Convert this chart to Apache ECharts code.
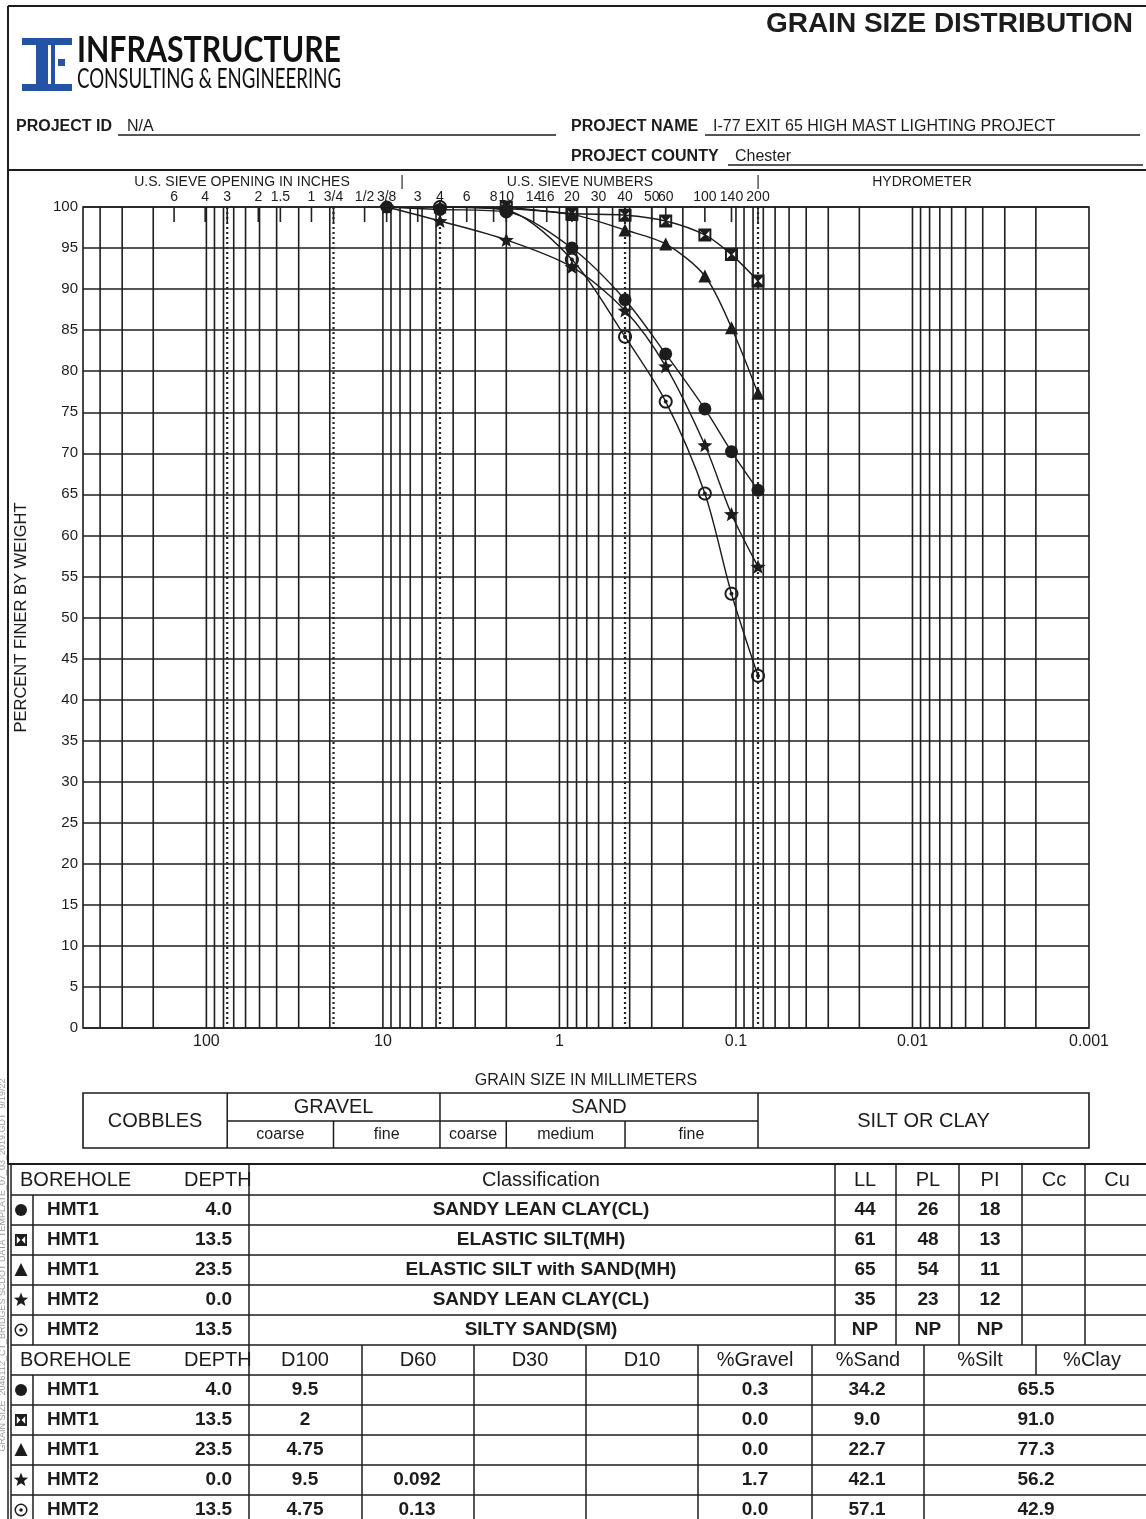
<!DOCTYPE html>
<html>
<head>
<meta charset="utf-8">
<title>Grain Size Distribution</title>
<script src="https://cdn.jsdelivr.net/npm/echarts@6/dist/echarts.min.js"></script>
<style>
html,body{margin:0;padding:0;background:#fff;}
#chart{width:1146px;height:1519px;}
</style>
</head>
<body>
<div id="chart"></div>
<script>
// ---------------- DATA ----------------
const sieveSizesMm = [152.4, 101.6, 76.2, 50.8, 38.1, 25.4, 19.05, 12.7, 9.525, 6.35, 4.75, 3.35, 2.36, 2.0, 1.4, 1.18, 0.85, 0.6, 0.425, 0.3, 0.25, 0.15, 0.106, 0.075];
const sieveLabels  = ['6','4','3','2','1.5','1','3/4','1/2','3/8','3','4','6','8','10','14','16','20','30','40','50','60','100','140','200'];
const boundarySizesMm = [76.2, 19.05, 4.75, 0.425, 0.075];

const xTickValues = [100, 10, 1, 0.1, 0.01, 0.001];
const xTickLabels = ['100', '10', '1', '0.1', '0.01', '0.001'];

const testSizesMm    = [9.5, 4.75, 2.0, 0.85, 0.425, 0.25, 0.15, 0.106, 0.075];
const finerHMT1_4_0  = [100, 99.7, 99.4, 95.0, 88.7, 82.1, 75.4, 70.2, 65.5];
const finerHMT1_13_5 = [null, null, 100, 99.2, 99.0, 98.3, 96.6, 94.2, 91.0];
const finerHMT1_23_5 = [null, 100, 99.8, 99.1, 97.2, 95.5, 91.6, 85.3, 77.3];
const finerHMT2_0_0  = [100, 98.3, 96.0, 92.7, 87.4, 80.6, 71.0, 62.6, 56.2];
const finerHMT2_13_5 = [null, 100, 99.6, 93.6, 84.2, 76.3, 65.1, 52.9, 42.9];

const boreholes       = ['HMT1', 'HMT1', 'HMT1', 'HMT2', 'HMT2'];
const depths          = ['4.0', '13.5', '23.5', '0.0', '13.5'];
const classifications = ['SANDY LEAN CLAY(CL)', 'ELASTIC SILT(MH)', 'ELASTIC SILT with SAND(MH)', 'SANDY LEAN CLAY(CL)', 'SILTY SAND(SM)'];
const liquidLimit     = ['44', '61', '65', '35', 'NP'];
const plasticLimit    = ['26', '48', '54', '23', 'NP'];
const plasticityIdx   = ['18', '13', '11', '12', 'NP'];
const d100            = ['9.5', '2', '4.75', '9.5', '4.75'];
const d60             = ['', '', '', '0.092', '0.13'];
const d30             = ['', '', '', '', ''];
const d10             = ['', '', '', '', ''];
const pctGravel       = ['0.3', '0.0', '0.0', '1.7', '0.0'];
const pctSand         = ['34.2', '9.0', '22.7', '42.1', '57.1'];
const pctFines        = ['65.5', '91.0', '77.3', '56.2', '42.9'];
const markKinds       = ['circle', 'hourglass', 'triangle', 'star', 'ringdot'];
const finerSeries     = [finerHMT1_4_0, finerHMT1_13_5, finerHMT1_23_5, finerHMT2_0_0, finerHMT2_13_5];

// ---------------- STYLE HELPERS ----------------
const FF = '"Liberation Sans", Arial, Helvetica, sans-serif';
const INK = '#1c1c1c';

function starPts(cx, cy, R, r) {
  const pts = [];
  for (let i = 0; i < 10; i++) {
    const rad = i % 2 === 0 ? R : r;
    const a = -Math.PI / 2 + i * Math.PI / 5;
    pts.push([cx + rad * Math.cos(a), cy + rad * Math.sin(a)]);
  }
  return pts;
}
function ptsToPath(pts) {
  return pts.map((p, i) => (i ? 'L' : 'M') + p[0].toFixed(2) + ' ' + p[1].toFixed(2)).join(' ') + ' Z ';
}
function circlePts(cx, cy, r, rev) {
  const N = 36, pts = [];
  for (let i = 0; i < N; i++) {
    const k = rev ? N - i : i;
    const a = 2 * Math.PI * k / N;
    pts.push([cx + r * Math.cos(a), cy + r * Math.sin(a)]);
  }
  return pts;
}
const starSymbol = 'path://' + ptsToPath(starPts(10, 10, 10, 4.3));
const ringDotSymbol = 'path://' + ptsToPath(circlePts(10, 10, 10, false)) + ptsToPath(circlePts(10, 10, 7.2, true)) + ptsToPath(circlePts(10, 10, 2.8, false));
const hourglassSymbol = 'path://M0 0 L12 0 L12 12 L0 12 Z M1.8 2.4 L1.8 9.6 L5.4 6 Z M10.2 2.4 L6.6 6 L10.2 9.6 Z';
const symbolFor = { circle: 'circle', hourglass: hourglassSymbol, triangle: 'triangle', star: starSymbol, ringdot: ringDotSymbol };
const symbolSizeFor = { circle: 13, hourglass: 13, triangle: 13, star: 15, ringdot: 14 };

function txt(text, x, y, o) {
  o = o || {};
  const align = o.align || 'left', va = o.va || 'middle';
  const el = { type: 'text', x: x, y: y, z: 20, silent: true,
    style: { text: text, fill: o.fill || INK, fontSize: o.size || 16, fontWeight: o.weight || 'normal',
      fontFamily: o.family || FF, align: align, verticalAlign: va, textAlign: align, textVerticalAlign: va } };
  if (o.scaleX) el.scaleX = o.scaleX;
  if (o.rotation) el.rotation = o.rotation;
  return el;
}
function ln(x1, y1, x2, y2, w, extra) {
  return { type: 'line', z: 20, silent: true, shape: { x1: x1, y1: y1, x2: x2, y2: y2 },
    style: Object.assign({ stroke: INK, lineWidth: w || 1.5 }, extra || {}) };
}
function rc(x, y, w, h, fill) {
  return { type: 'rect', z: 20, silent: true, shape: { x: x, y: y, width: w, height: h }, style: { fill: fill } };
}
function icon(kind, cx, cy) {
  switch (kind) {
    case 'circle': return [{ type: 'circle', z: 20, shape: { cx: cx, cy: cy, r: 6 }, style: { fill: INK } }];
    case 'hourglass': return [rc(cx - 6, cy - 6, 12, 12, INK),
      { type: 'polygon', z: 21, shape: { points: [[cx - 4.2, cy - 3.8], [cx - 4.2, cy + 3.8], [cx - 0.6, cy]] }, style: { fill: '#fff' } },
      { type: 'polygon', z: 21, shape: { points: [[cx + 4.2, cy - 3.8], [cx + 0.6, cy], [cx + 4.2, cy + 3.8]] }, style: { fill: '#fff' } }];
    case 'triangle': return [{ type: 'polygon', z: 20, shape: { points: [[cx, cy - 7], [cx + 6.5, cy + 6], [cx - 6.5, cy + 6]] }, style: { fill: INK } }];
    case 'star': return [{ type: 'polygon', z: 20, shape: { points: starPts(cx, cy, 7.5, 3.2) }, style: { fill: INK } }];
    case 'ringdot': return [{ type: 'ring', z: 20, shape: { cx: cx, cy: cy, r: 6.5, r0: 5.0 }, style: { fill: INK } },
      { type: 'circle', z: 20, shape: { cx: cx, cy: cy, r: 1.8 }, style: { fill: INK } }];
  }
  return [];
}
function fitScale(text, font, target) {
  const c = document.createElement('canvas').getContext('2d');
  c.font = font;
  const w = c.measureText(text).width;
  return w > 0 ? target / w : 1;
}

// gridline values (axis decoration): 1..9 x 10^k inside the axis range
const gridValues = [];
for (let e = -3; e <= 2; e++) {
  for (let m = 1; m <= 9; m++) {
    const v = +(m * Math.pow(10, e)).toPrecision(4);
    if (v > 0.001 && v < 500) gridValues.push(v);
  }
}

// ---------------- CHART ----------------
const chart = echarts.init(document.getElementById('chart'), null, { renderer: 'canvas', width: 1146, height: 1519 });

const GRID = { left: 83, top: 207, width: 1006, height: 821 };

const lineSeries = finerSeries.map((vals, si) => ({
  type: 'line',
  name: boreholes[si] + ' ' + depths[si],
  data: testSizesMm.map((s, i) => [s, vals[i]]).filter(p => p[1] !== null),
  smooth: 0.3,
  symbol: symbolFor[markKinds[si]],
  symbolSize: symbolSizeFor[markKinds[si]],
  symbolKeepAspect: true,
  lineStyle: { color: INK, width: 1.4 },
  itemStyle: { color: INK },
  z: 5,
  silent: true
}));

const option = {
  animation: false,
  backgroundColor: '#fff',
  textStyle: { fontFamily: FF },
  grid: Object.assign({ show: true, borderColor: INK, borderWidth: 1.6, backgroundColor: 'transparent', containLabel: false }, GRID),
  xAxis: {
    type: 'log', logBase: 10, min: 0.001, max: 500, inverse: true,
    name: 'GRAIN SIZE IN MILLIMETERS', nameLocation: 'middle', nameGap: 45,
    nameTextStyle: { fontSize: 16, color: INK, fontFamily: FF },
    axisLine: { show: false }, axisTick: { show: false }, splitLine: { show: false },
    axisLabel: {
      show: true, interval: 0, fontSize: 16, color: INK, margin: 6, showMinLabel: true, showMaxLabel: true,
      formatter: v => {
        for (let i = 0; i < xTickValues.length; i++) {
          if (Math.abs(Math.log10(v) - Math.log10(xTickValues[i])) < 1e-6) return xTickLabels[i];
        }
        return '';
      }
    }
  },
  yAxis: {
    type: 'value', min: 0, max: 100, interval: 5,
    name: 'PERCENT FINER BY WEIGHT', nameLocation: 'middle', nameGap: 53, nameRotate: 90,
    nameTextStyle: { fontSize: 16.5, color: INK, fontFamily: FF },
    axisLine: { show: false }, axisTick: { show: false },
    axisLabel: { fontSize: 15, color: INK, margin: 5 },
    splitLine: { show: true, lineStyle: { color: '#1e1e1e', width: 1.6 } }
  },
  series: [
    { // vertical log grid lines
      type: 'custom', silent: true, clip: false, z: 1,
      data: gridValues.map(v => [v, 0]), encode: { x: 0, y: 1 },
      renderItem: (params, api) => {
        const x = api.coord([api.value(0), 0])[0];
        const cs = params.coordSys;
        return { type: 'line', shape: { x1: x, y1: cs.y, x2: x, y2: cs.y + cs.height }, style: { stroke: '#1e1e1e', lineWidth: 1.6 } };
      }
    },
    { // dotted soil-class boundaries
      type: 'custom', silent: true, clip: false, z: 2,
      data: boundarySizesMm.map(v => [v, 0]), encode: { x: 0, y: 1 },
      renderItem: (params, api) => {
        const x = api.coord([api.value(0), 0])[0];
        const cs = params.coordSys;
        return { type: 'line', shape: { x1: x, y1: cs.y, x2: x, y2: cs.y + cs.height },
          style: { stroke: '#222', lineWidth: 2.2, lineDash: [2, 3] } };
      }
    },
    { // sieve ticks and labels along the top
      type: 'custom', silent: true, clip: false, z: 3,
      data: sieveSizesMm.map((v, i) => [v, i]), encode: { x: 0, y: 1 },
      renderItem: (params, api) => {
        const x = api.coord([api.value(0), 0])[0];
        const top = params.coordSys.y;
        return { type: 'group', children: [
          { type: 'line', shape: { x1: x, y1: top, x2: x, y2: top + 15 }, style: { stroke: '#222', lineWidth: 1.6 } },
          { type: 'text', x: x, y: top - 10, style: { text: sieveLabels[api.value(1)], fill: INK, fontSize: 14, fontFamily: FF,
            align: 'center', verticalAlign: 'middle', textAlign: 'center', textVerticalAlign: 'middle' } }
        ] };
      }
    }
  ].concat(lineSeries)
};
chart.setOption(option);

// ---------------- PAGE FRAME, HEADER, CLASS BOX, TABLES ----------------
const px = v => chart.convertToPixel({ xAxisIndex: 0 }, v);
const els = [];

// frame
els.push(ln(8, 6, 1146, 6, 2));
els.push(ln(8, 6, 8, 1164, 2));
els.push(ln(8, 170, 1146, 170, 2));

// title
els.push(txt('GRAIN SIZE DISTRIBUTION', 1133, 24, { size: 28, weight: 'bold', align: 'right' }));

// logo mark
const BLUE = '#2453a6';
els.push(rc(22, 38, 50, 7, BLUE));
els.push(rc(22, 84, 50, 7, BLUE));
els.push(rc(36, 38, 12, 53, BLUE));
els.push(rc(51, 45, 4, 39, BLUE));
els.push(rc(58, 59, 7, 7, BLUE));
const logoFont1 = 'bold 36px Lato, "Liberation Sans", sans-serif';
const logoFont2 = '26px Lato, "Liberation Sans", sans-serif';
els.push(txt('INFRASTRUCTURE', 77, 50, { size: 36, weight: 'bold', family: 'Lato, "Liberation Sans", sans-serif', fill: '#111',
  scaleX: fitScale('INFRASTRUCTURE', logoFont1, 264) }));
els.push(txt('CONSULTING & ENGINEERING', 77, 80, { size: 26, family: 'Lato, "Liberation Sans", sans-serif', fill: '#111',
  scaleX: fitScale('CONSULTING & ENGINEERING', logoFont2, 264) }));

// project info
els.push(txt('PROJECT ID', 16, 127, { size: 16, weight: 'bold' }));
els.push(txt('N/A', 127, 127, { size: 16 }));
els.push(ln(118, 135, 556, 135, 1.3));
els.push(txt('PROJECT NAME', 571, 127, { size: 16, weight: 'bold' }));
els.push(txt('I-77 EXIT 65 HIGH MAST LIGHTING PROJECT', 713, 127, { size: 16 }));
els.push(ln(705, 135, 1140, 135, 1.3));
els.push(txt('PROJECT COUNTY', 571, 157, { size: 16, weight: 'bold' }));
els.push(txt('Chester', 735, 157, { size: 16 }));
els.push(ln(728, 165, 1143, 165, 1.3));

// sieve group captions
els.push(txt('U.S. SIEVE OPENING IN INCHES', 242, 182, { size: 14, align: 'center' }));
els.push(txt('|', 402, 182, { size: 14, align: 'center' }));
els.push(txt('U.S. SIEVE NUMBERS', 580, 182, { size: 14, align: 'center' }));
els.push(txt('|', px(0.075), 182, { size: 14, align: 'center' }));
els.push(txt('HYDROMETER', 922, 182, { size: 14, align: 'center' }));

// classification box (boundaries from the axis scale)
const bx0 = px(500), bx1 = px(0.001);
const bCob = px(76.2), bG = px(19.05), bGS = px(4.75), bS1 = px(2.0), bS2 = px(0.425), bF = px(0.075);
const by0 = 1093, byM = 1121, by1 = 1148;
els.push({ type: 'rect', z: 20, silent: true, shape: { x: bx0, y: by0, width: bx1 - bx0, height: by1 - by0 }, style: { fill: 'none', stroke: INK, lineWidth: 1.6 } });
[bCob, bGS, bF].forEach(x => els.push(ln(x, by0, x, by1, 1.5)));
els.push(ln(bCob, byM, bF, byM, 1.5));
[bG, bS1, bS2].forEach(x => els.push(ln(x, byM, x, by1, 1.5)));
els.push(txt('COBBLES', (bx0 + bCob) / 2, 1121, { size: 20, align: 'center' }));
els.push(txt('GRAVEL', (bCob + bGS) / 2, 1107, { size: 20, align: 'center' }));
els.push(txt('SAND', (bGS + bF) / 2, 1107, { size: 20, align: 'center' }));
els.push(txt('SILT OR CLAY', (bF + bx1) / 2, 1121, { size: 20, align: 'center' }));
els.push(txt('coarse', (bCob + bG) / 2, 1135, { size: 16, align: 'center' }));
els.push(txt('fine', (bG + bGS) / 2, 1135, { size: 16, align: 'center' }));
els.push(txt('coarse', (bGS + bS1) / 2, 1135, { size: 16, align: 'center' }));
els.push(txt('medium', (bS1 + bS2) / 2, 1135, { size: 16, align: 'center' }));
els.push(txt('fine', (bS2 + bF) / 2, 1135, { size: 16, align: 'center' }));

// margin file path (rotated)
els.push(txt('GRAIN SIZE  2046112_CT_BRIDGES SCDOT DATA TEMPLATE_07_03_2019.GDT  9/19/22', 3, 1265,
  { size: 9, fill: '#9a9a9a', align: 'center', rotation: Math.PI / 2 }));

// ---- tables ----
const HDR = 20, VAL = 19;
const t1Top = 1164, rowH = 30;
const t1Rows = [t1Top, 1195, 1225, 1255, 1285, 1315, 1345];
const t2Rows = [1345, 1375, 1405, 1435, 1465, 1495];
els.push(ln(8, t1Top, 1146, t1Top, 2));
t1Rows.slice(1).forEach(y => els.push(ln(11, y, 1146, y, 1.5)));
t2Rows.slice(1).forEach(y => els.push(ln(11, y, 1146, y, 1.5)));
els.push(ln(8, t1Top, 8, 1519, 1.5));
els.push(ln(11, t1Top, 11, 1519, 1.5));
// table 1 verticals
els.push(ln(33, 1195, 33, 1345, 1.5));
[249, 835, 896, 959, 1022, 1085].forEach(x => els.push(ln(x, t1Top, x, 1345, 1.5)));
// table 2 verticals
els.push(ln(33, 1375, 33, 1519, 1.5));
[249, 362, 474, 586, 698, 812, 924].forEach(x => els.push(ln(x, 1345, x, 1519, 1.5)));
els.push(ln(1036, 1345, 1036, 1375, 1.5));

// table 1 header
els.push(txt('BOREHOLE', 20, 1180, { size: HDR }));
els.push(txt('DEPTH', 184, 1180, { size: HDR }));
els.push(txt('Classification', 541, 1180, { size: HDR, align: 'center' }));
[['LL', 865], ['PL', 928], ['PI', 990], ['Cc', 1054], ['Cu', 1117]].forEach(h => els.push(txt(h[0], h[1], 1180, { size: HDR, align: 'center' })));
// table 1 rows
for (let i = 0; i < boreholes.length; i++) {
  const y = 1210 + i * rowH;
  icon(markKinds[i], 21, y).forEach(e => els.push(e));
  els.push(txt(boreholes[i], 47, y, { size: VAL, weight: 'bold' }));
  els.push(txt(depths[i], 232, y, { size: VAL, weight: 'bold', align: 'right' }));
  els.push(txt(classifications[i], 541, y, { size: VAL, weight: 'bold', align: 'center' }));
  els.push(txt(liquidLimit[i], 865, y, { size: VAL, weight: 'bold', align: 'center' }));
  els.push(txt(plasticLimit[i], 928, y, { size: VAL, weight: 'bold', align: 'center' }));
  els.push(txt(plasticityIdx[i], 990, y, { size: VAL, weight: 'bold', align: 'center' }));
}
// table 2 header
els.push(txt('BOREHOLE', 20, 1360, { size: HDR }));
els.push(txt('DEPTH', 184, 1360, { size: HDR }));
[['D100', 305], ['D60', 418], ['D30', 530], ['D10', 642], ['%Gravel', 755], ['%Sand', 868], ['%Silt', 980], ['%Clay', 1092]]
  .forEach(h => els.push(txt(h[0], h[1], 1360, { size: HDR, align: 'center' })));
// table 2 rows
for (let i = 0; i < boreholes.length; i++) {
  const y = 1390 + i * rowH;
  icon(markKinds[i], 21, y).forEach(e => els.push(e));
  els.push(txt(boreholes[i], 47, y, { size: VAL, weight: 'bold' }));
  els.push(txt(depths[i], 232, y, { size: VAL, weight: 'bold', align: 'right' }));
  els.push(txt(d100[i], 305, y, { size: VAL, weight: 'bold', align: 'center' }));
  els.push(txt(d60[i], 417, y, { size: VAL, weight: 'bold', align: 'center' }));
  els.push(txt(d30[i], 530, y, { size: VAL, weight: 'bold', align: 'center' }));
  els.push(txt(d10[i], 642, y, { size: VAL, weight: 'bold', align: 'center' }));
  els.push(txt(pctGravel[i], 755, y, { size: VAL, weight: 'bold', align: 'center' }));
  els.push(txt(pctSand[i], 867, y, { size: VAL, weight: 'bold', align: 'center' }));
  els.push(txt(pctFines[i], 1036, y, { size: VAL, weight: 'bold', align: 'center' }));
}

chart.setOption({ graphic: { elements: els } });
</script>
</body>
</html>
